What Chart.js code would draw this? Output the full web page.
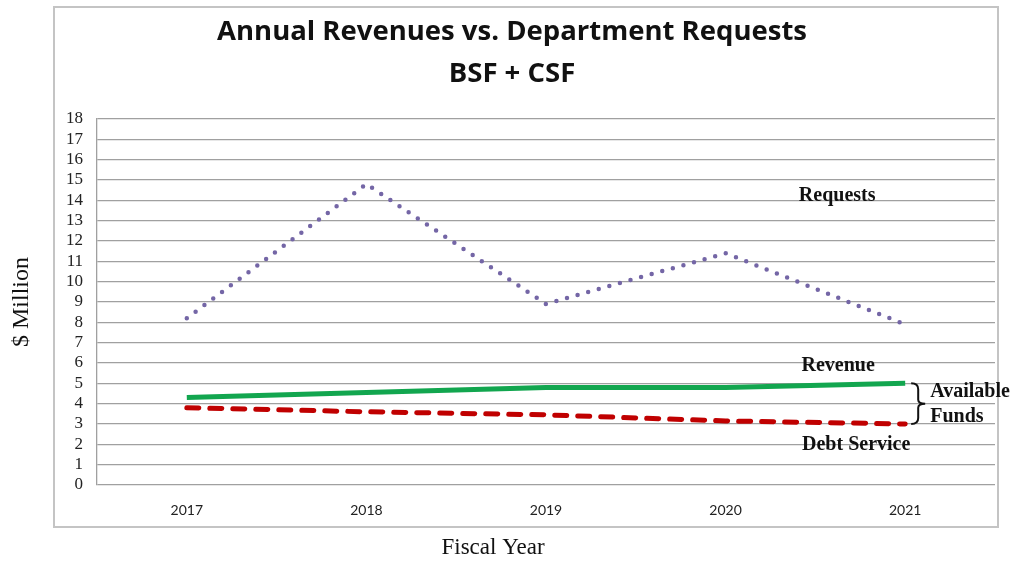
<!DOCTYPE html>
<html>
<head>
<meta charset="utf-8">
<script src="https://cdn.jsdelivr.net/npm/chart.js@4"></script>
<style>
  html, body { margin: 0; padding: 0; background: #fff; }
  #wrap { position: relative; width: 1011px; height: 561px; }
</style>
</head>
<body>
<div id="wrap"><canvas id="revChart"></canvas></div>
<script>
// data ($ million)
const years = ['2017', '2018', '2019', '2020', '2021'];
const requests = [8.2, 14.8, 8.9, 11.4, 7.9];
const revenue = [4.3, 4.55, 4.8, 4.8, 5.0];
const debtService = [3.8, 3.6, 3.45, 3.15, 3.0];

const serif = '"Liberation Serif", "Times New Roman", serif';

// frame, line labels, brace, x title
const notes = {
    id: 'notes',
    beforeDraw(chart) {
        let ctx = chart.ctx;
        ctx.save();
        ctx.strokeStyle = '#c4c4c4';
        ctx.lineWidth = 2;
        ctx.strokeRect(54, 7, 944, 520);
        ctx.restore();
    },
    afterDraw(chart) {
        let ctx = chart.ctx;
        let x = chart.scales.x, y = chart.scales.y;
        let xEnd = x.getPixelForValue(years.length - 1);
        ctx.save();
        ctx.fillStyle = '#111';
        ctx.font = 'bold 20px ' + serif;
        ctx.textBaseline = 'middle';
        ctx.textAlign = 'center';
        ctx.fillText('Requests', xEnd - 68, y.getPixelForValue(14.2));
        ctx.fillText('Revenue', xEnd - 67, y.getPixelForValue(5.85));
        ctx.fillText('Debt Service', xEnd - 49, y.getPixelForValue(2.0));
        ctx.textAlign = 'left';
        ctx.fillText('Available', xEnd + 25, y.getPixelForValue(4.57));
        ctx.fillText('Funds', xEnd + 25, y.getPixelForValue(3.35));

        // brace between revenue and debt service in the last year
        let top = y.getPixelForValue(revenue[revenue.length - 1]);
        let bot = y.getPixelForValue(debtService[debtService.length - 1]);
        let mid = (top + bot) / 2;
        let bx = xEnd + 6;
        ctx.strokeStyle = '#111';
        ctx.lineWidth = 2;
        ctx.beginPath();
        ctx.moveTo(bx, top);
        ctx.quadraticCurveTo(bx + 7, top, bx + 7, top + 6);
        ctx.lineTo(bx + 7, mid - 4);
        ctx.quadraticCurveTo(bx + 7, mid, bx + 14, mid);
        ctx.quadraticCurveTo(bx + 7, mid, bx + 7, mid + 4);
        ctx.lineTo(bx + 7, bot - 6);
        ctx.quadraticCurveTo(bx + 7, bot, bx, bot);
        ctx.stroke();

        ctx.font = '23px ' + serif;
        ctx.textAlign = 'center';
        ctx.fillText('Fiscal Year', 493, 548);
        ctx.restore();
    }
};

let ctx = document.getElementById('revChart').getContext('2d');
let revChart = new Chart(ctx, {
    type: 'line',
    data: {
        labels: years,
        datasets: [
            {
                label: 'Requests',
                data: requests,
                borderColor: '#7466a6',
                borderWidth: 4.5,
                borderDash: [0, 11],
                borderCapStyle: 'round',
                pointRadius: 0,
                tension: 0
            },
            {
                label: 'Revenue',
                data: revenue,
                borderColor: '#12a64f',
                borderWidth: 5,
                pointRadius: 0,
                tension: 0
            },
            {
                label: 'Debt Service',
                data: debtService,
                borderColor: '#c00000',
                borderWidth: 5,
                borderDash: [12, 11],
                borderCapStyle: 'round',
                pointRadius: 0,
                tension: 0
            }
        ]
    },
    options: {
        responsive: true,
        maintainAspectRatio: false,
        animation: false,
        devicePixelRatio: 1,
        layout: { padding: { left: 29, right: 16, top: 0, bottom: 0 } },
        scales: {
            x: {
                offset: true,
                grid: { display: false },
                border: { display: false },
                ticks: { color: '#222', font: { family: 'Lato', size: 14 }, padding: 9 },
                afterFit(scale) { scale.height = 76; }
            },
            y: {
                min: 0,
                max: 18,
                ticks: { stepSize: 1, autoSkip: false, color: '#222', font: { family: serif, size: 17 }, padding: 14 },
                grid: { color: '#a0a0a0', lineWidth: 1.3, drawTicks: false },
                border: { color: '#a0a0a0', width: 1.3 },
                title: {
                    display: true,
                    text: '$ Million',
                    color: '#111',
                    font: { family: serif, size: 24 },
                    padding: { top: -22, bottom: 0 }
                },
                afterFit(scale) { scale.width = 68; }
            }
        },
        plugins: {
            legend: { display: false },
            tooltip: { enabled: false },
            title: {
                display: true,
                text: ['Annual Revenues vs. Department Requests', 'BSF + CSF'],
                color: '#111',
                font: { family: '"Open Sans"', size: 27.5, weight: 'bold', lineHeight: 1.527 },
                padding: { top: 11, bottom: 24 }
            }
        }
    },
    plugins: [notes]
});
</script>
</body>
</html>
